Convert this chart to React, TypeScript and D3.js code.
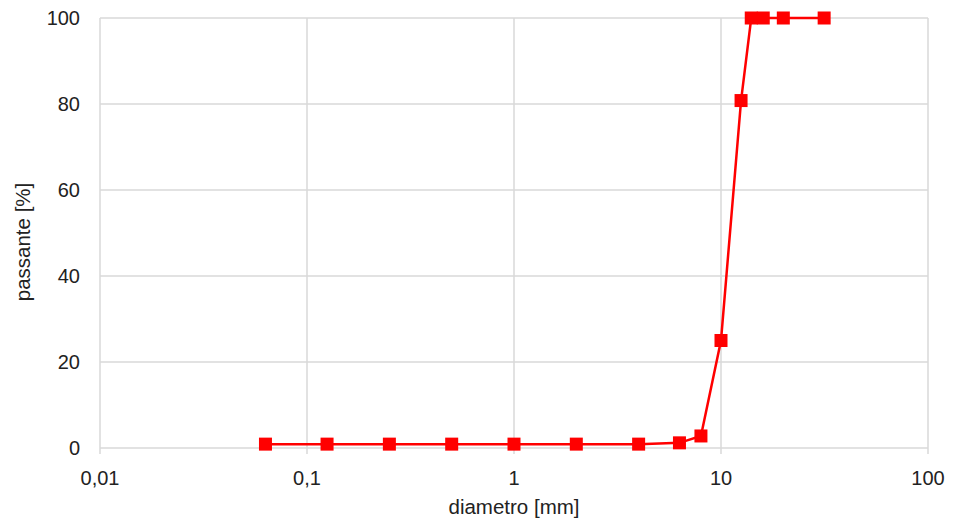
import React, { useEffect, useRef } from 'react';
import * as d3 from 'd3';

// grain size (mm) and percent passing
const diameters = [0.063, 0.125, 0.25, 0.5, 1, 2, 4, 6.3, 8, 10, 12.5, 14, 16, 20, 31.5];
const passing = [0.9, 0.9, 0.9, 0.9, 0.9, 0.9, 0.9, 1.2, 2.8, 25, 80.8, 100, 100, 100, 100];
const xTicks = [0.01, 0.1, 1, 10, 100];
const xTickLabels = ['0,01', '0,1', '1', '10', '100'];
const yTicks = [0, 20, 40, 60, 80, 100];

const W = 954;
const H = 527;
const margin = { top: 18, right: 26, bottom: 79, left: 100 };

const Chart = () => {
  const svgRef = useRef<SVGSVGElement>(null);

  useEffect(() => {
    const svg = d3.select(svgRef.current);
    svg.selectAll('*').remove();

    const x = d3.scaleLog().domain([0.01, 100]).range([margin.left, W - margin.right]);
    const y = d3.scaleLinear().domain([0, 100]).range([H - margin.bottom, margin.top]);
    const font = '"Liberation Sans", Arial, sans-serif';
    const grid = '#d9d9d9';

    // gridlines
    svg.append('g')
      .selectAll('line')
      .data(yTicks)
      .enter()
      .append('line')
      .attr('x1', margin.left)
      .attr('x2', W - margin.right)
      .attr('y1', (d) => y(d))
      .attr('y2', (d) => y(d))
      .attr('stroke', grid)
      .attr('stroke-width', 1.5);

    svg.append('g')
      .selectAll('line')
      .data(xTicks)
      .enter()
      .append('line')
      .attr('x1', (d) => x(d))
      .attr('x2', (d) => x(d))
      .attr('y1', margin.top)
      .attr('y2', y(0) + 6)
      .attr('stroke', grid)
      .attr('stroke-width', 1.5);

    // tick labels
    svg.append('g')
      .selectAll('text')
      .data(yTicks)
      .enter()
      .append('text')
      .attr('x', margin.left - 20)
      .attr('y', (d) => y(d))
      .attr('dy', '0.36em')
      .attr('text-anchor', 'end')
      .attr('font-family', font)
      .attr('font-size', 20)
      .attr('fill', '#222')
      .text((d) => d);

    svg.append('g')
      .selectAll('text')
      .data(xTicks)
      .enter()
      .append('text')
      .attr('x', (d) => x(d))
      .attr('y', y(0) + 37)
      .attr('text-anchor', 'middle')
      .attr('font-family', font)
      .attr('font-size', 20)
      .attr('fill', '#222')
      .text((d, i) => xTickLabels[i]);

    // axis titles
    svg.append('text')
      .attr('x', 514)
      .attr('y', 514)
      .attr('text-anchor', 'middle')
      .attr('font-family', font)
      .attr('font-size', 20.5)
      .attr('fill', '#222')
      .text('diametro [mm]');

    svg.append('text')
      .attr('transform', 'translate(30,242) rotate(-90)')
      .attr('text-anchor', 'middle')
      .attr('font-family', font)
      .attr('font-size', 20.5)
      .attr('fill', '#222')
      .text('passante [%]');

    const pts = diameters.map((d, i) => [d, passing[i]] as [number, number]);
    const line = d3.line<[number, number]>()
      .x((d) => x(d[0]))
      .y((d) => y(d[1]));

    svg.append('path')
      .datum(pts)
      .attr('d', line)
      .attr('fill', 'none')
      .attr('stroke', '#ff0000')
      .attr('stroke-width', 2.5);

    const s = 13;
    svg.append('g')
      .selectAll('rect')
      .data(pts)
      .enter()
      .append('rect')
      .attr('x', (d) => x(d[0]) - s / 2)
      .attr('y', (d) => y(d[1]) - s / 2)
      .attr('width', s)
      .attr('height', s)
      .attr('fill', '#ff0000');
  }, []);

  return <svg ref={svgRef} width={W} height={H} style={{ display: 'block' }} />;
};

export default function App() {
  return (
    <div style={{ margin: -8 }}>
      <Chart />
    </div>
  );
}
